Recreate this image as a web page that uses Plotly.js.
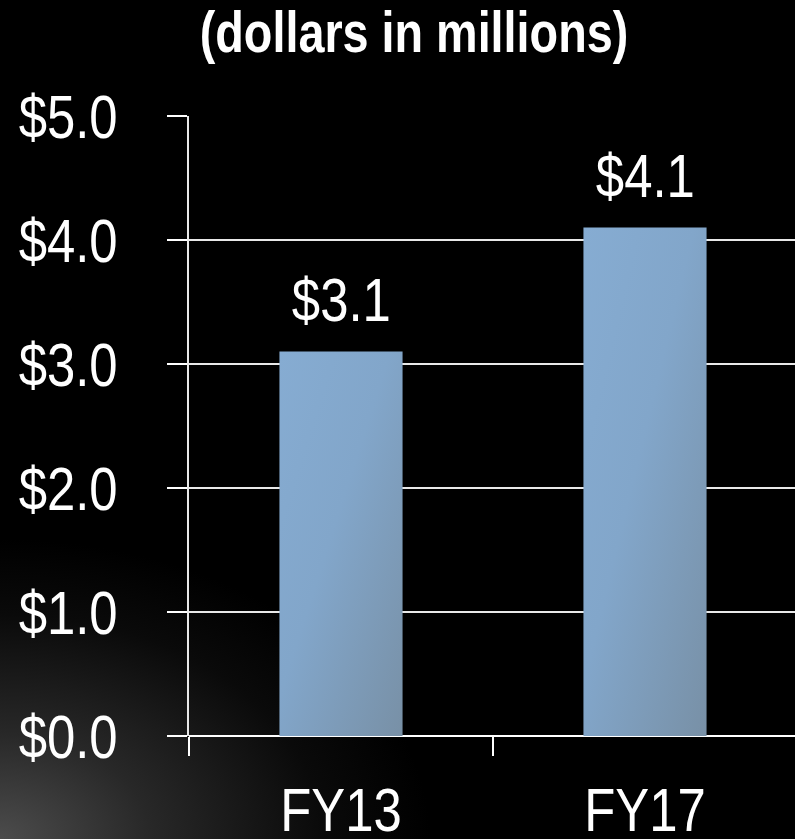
<!DOCTYPE html>
<html>
<head>
<meta charset="utf-8">
<script src="https://cdn.plot.ly/plotly-3.0.1.min.js"></script>
<style>
html,body{margin:0;padding:0;width:795px;height:839px;overflow:hidden;}
body{background:radial-gradient(ellipse 430px 300px at 0% 100%, #4c4c4c 0%, #282828 35%, #0a0a0a 75%, #000 100%), #000;}
#chart{width:795px;height:839px;}
</style>
</head>
<body>
<div id="chart"></div>
<script>
const categories = ["FY13", "FY17"];
const values = [3.1, 4.1];
const valueLabels = ["$3.1", "$4.1"];
const yTickVals = [0, 1, 2, 3, 4, 5];
const yTickText = ["$0.0", "$1.0", "$2.0", "$3.0", "$4.0", "$5.0"];
const chartTitle = "(dollars in millions)";

const font = "'Liberation Sans', Arial, sans-serif";

const trace = {
  type: "bar",
  x: categories,
  y: values,
  width: 0.405,
  marker: {color: "#80a4c7", line: {width: 0}},
  hoverinfo: "skip"
};

const annotations = categories.map((c, i) => ({
  x: c, y: values[i], xref: "x", yref: "y",
  text: valueLabels[i], showarrow: false,
  yanchor: "bottom", yshift: 16,
  font: {family: font, size: 62, color: "#ffffff"}
}));

const layout = {
  width: 795, height: 839,
  margin: {l: 189, r: 0, t: 116, b: 103, pad: 0},
  paper_bgcolor: "rgba(0,0,0,0)",
  plot_bgcolor: "rgba(0,0,0,0)",
  showlegend: false,
  title: {
    text: "<b>" + chartTitle + "</b>",
    font: {family: font, size: 57, color: "#ffffff"},
    x: 414/795, xref: "container", xanchor: "center",
    y: 1 - 32/839, yref: "container", yanchor: "middle"
  },
  xaxis: {
    type: "category",
    range: [-0.5, 1.5 - 2/304],
    tickson: "boundaries",
    ticks: "outside", ticklen: 19, tickwidth: 2, tickcolor: "#ffffff",
    showgrid: false, showline: false, zeroline: false,
    tickfont: {family: font, size: 62, color: "#ffffff"},
    ticklabelstandoff: 32,
    fixedrange: true
  },
  yaxis: {
    range: [0, 5],
    tickvals: yTickVals, ticktext: yTickText,
    ticks: "outside", ticklen: 20, tickwidth: 2, tickcolor: "#ffffff",
    showgrid: true, gridcolor: "#e8e8e8", gridwidth: 2,
    zeroline: true, zerolinecolor: "#ffffff", zerolinewidth: 2,
    showline: true, linecolor: "#e8e8e8", linewidth: 2,
    tickfont: {family: font, size: 62, color: "#ffffff"},
    ticklabelstandoff: 37,
    fixedrange: true
  },
  annotations: annotations
};

// Narrow the glyphs horizontally (reference uses a condensed face), keeping each text's anchor in place.
function condense(selector, factor) {
  document.querySelectorAll(selector).forEach(t => {
    const len = t.getComputedTextLength();
    if (!len) return;
    const b0 = t.getBBox();
    t.setAttribute("textLength", len * factor);
    t.setAttribute("lengthAdjust", "spacingAndGlyphs");
    const b1 = t.getBBox();
    const anchor = t.getAttribute("text-anchor") || getComputedStyle(t).textAnchor;
    let dx;
    if (anchor === "end") dx = (b0.x + b0.width) - (b1.x + b1.width);
    else if (anchor === "middle") dx = (b0.x + b0.width / 2) - (b1.x + b1.width / 2);
    else dx = b0.x - b1.x;
    t.setAttribute("x", parseFloat(t.getAttribute("x") || 0) + dx);
  });
}

// Subtle diagonal shading on the bars, as in the reference.
function shadeBars() {
  const svg = document.querySelector("#chart .main-svg");
  const ns = "http://www.w3.org/2000/svg";
  let defs = svg.querySelector("defs");
  if (!defs) { defs = document.createElementNS(ns, "defs"); svg.insertBefore(defs, svg.firstChild); }
  const g = document.createElementNS(ns, "linearGradient");
  g.setAttribute("id", "barShade");
  g.setAttribute("x1", "0"); g.setAttribute("y1", "0");
  g.setAttribute("x2", "1"); g.setAttribute("y2", "1");
  [["0", "#86acd2"], ["0.45", "#82a6ca"], ["1", "#7890a6"]].forEach(([o, c]) => {
    const s = document.createElementNS(ns, "stop");
    s.setAttribute("offset", o); s.setAttribute("stop-color", c);
    g.appendChild(s);
  });
  defs.appendChild(g);
  document.querySelectorAll("#chart .bars .point path").forEach(p => { p.style.fill = "url(#barShade)"; });
}

Plotly.newPlot("chart", [trace], layout, {staticPlot: true, displayModeBar: false}).then(() => {
  condense(".xtick text", 0.82);
  condense(".ytick text", 0.82);
  condense(".annotation-text", 0.82);
  condense(".gtitle", 0.82);
  shadeBars();
});
</script>
</body>
</html>
